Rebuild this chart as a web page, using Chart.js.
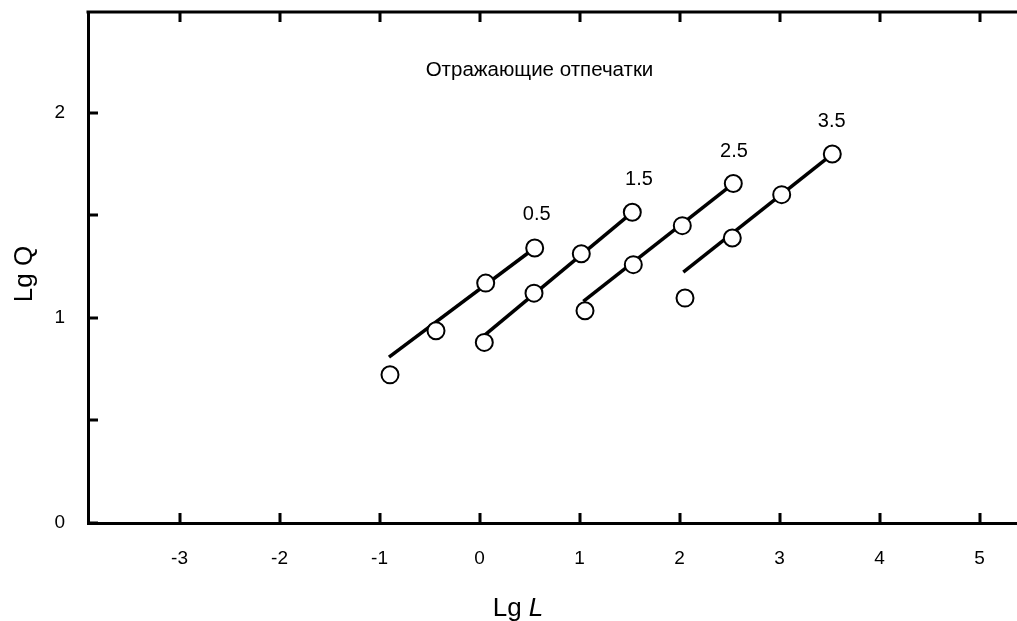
<!DOCTYPE html>
<html>
<head>
<meta charset="utf-8">
<script src="https://cdn.jsdelivr.net/npm/chart.js@4.4.0/dist/chart.umd.min.js"></script>
<style>
  html, body { margin: 0; background: #fff; overflow: hidden; }
</style>
</head>
<body>
<canvas id="chart" width="1017" height="621"></canvas>
<script>
// series labels (parameter value of each group)
const groups = ['0.5', '1.5', '2.5', '3.5'];

// measured points, Lg L / Lg Q
const lgL_05 = [-0.895, -0.435, 0.062, 0.552];
const lgQ_05 = [0.722, 0.937, 1.169, 1.340];
const lgL_15 = [0.048, 0.545, 1.018, 1.528];
const lgQ_15 = [0.880, 1.120, 1.312, 1.514];
const lgL_25 = [1.055, 1.538, 2.028, 2.538];
const lgQ_25 = [1.034, 1.259, 1.449, 1.654];
const lgL_35 = [2.055, 2.528, 3.022, 3.528];
const lgQ_35 = [1.096, 1.389, 1.600, 1.798];

// fitted straight lines: [lgL start, lgL end] / [lgQ start, lgQ end]
const fitL = [[-0.905, 0.552], [0.055, 1.528], [1.038, 2.538], [2.038, 3.528]];
const fitQ = [[0.808, 1.340], [0.917, 1.514], [1.080, 1.654], [1.223, 1.798]];

// where each group label sits (data coords)
const groupLabelL = [0.572, 1.595, 2.545, 3.522];
const groupLabelQ = [1.502, 1.673, 1.811, 1.958];

// ticks
const xTicks = [-3, -2, -1, 0, 1, 2, 3, 4, 5];
const yTicks = [0, 0.5, 1, 1.5, 2];

const title = 'Отражающие отпечатки';
const titleAt = { x: 0.6, y: 2.205 };

const font = '"Liberation Sans", Arial, sans-serif';
const pts = (xs, ys) => xs.map((x, i) => ({ x: x, y: ys[i] }));

const pointSets = [
  pts(lgL_05, lgQ_05), pts(lgL_15, lgQ_15),
  pts(lgL_25, lgQ_25), pts(lgL_35, lgQ_35)
];

const datasets = [];
fitL.forEach((xs, i) => {
  datasets.push({
    label: 'fit ' + groups[i],
    data: pts(xs, fitQ[i]),
    showLine: true,
    borderColor: '#000',
    borderWidth: 3.5,
    pointRadius: 0,
    order: 2
  });
});
pointSets.forEach((d, i) => {
  datasets.push({
    label: groups[i],
    data: d,
    showLine: false,
    pointRadius: 8.5,
    pointBorderWidth: 2,
    pointBackgroundColor: '#fff',
    pointBorderColor: '#000',
    order: 1
  });
});

// inward tick marks, top frame line, texts
const decor = {
  id: 'decor',
  afterDraw(chart) {
    const ctx = chart.ctx, a = chart.chartArea;
    const xs = chart.scales.x, ys = chart.scales.y;
    ctx.save();
    ctx.strokeStyle = '#000';
    ctx.lineWidth = 3;
    ctx.beginPath();
    ctx.moveTo(a.left - 1.5, a.top);
    ctx.lineTo(a.right + 2, a.top);
    xTicks.forEach(v => {
      const px = Math.round(xs.getPixelForValue(v));
      ctx.moveTo(px, a.bottom); ctx.lineTo(px, a.bottom - 10);
      ctx.moveTo(px, a.top); ctx.lineTo(px, a.top + 10);
    });
    yTicks.forEach(v => {
      const py = Math.round(ys.getPixelForValue(v));
      ctx.moveTo(a.left, py); ctx.lineTo(a.left + 10, py);
    });
    ctx.stroke();

    ctx.fillStyle = '#000';
    ctx.textAlign = 'center';
    ctx.textBaseline = 'middle';
    ctx.font = '20px ' + font;
    groups.forEach((g, i) => {
      ctx.fillText(g, xs.getPixelForValue(groupLabelL[i]), ys.getPixelForValue(groupLabelQ[i]));
    });
    ctx.font = '20.5px ' + font;
    ctx.fillText(title, xs.getPixelForValue(titleAt.x), ys.getPixelForValue(titleAt.y));

    // x axis title: "Lg " upright + italic "L"
    ctx.textBaseline = 'alphabetic';
    ctx.textAlign = 'left';
    ctx.font = '26px ' + font;
    const part1 = 'Lg ';
    const w1 = ctx.measureText(part1).width;
    ctx.font = 'italic 26px ' + font;
    const w2 = ctx.measureText('L').width;
    const x0 = 518 - (w1 + w2) / 2;
    ctx.font = '26px ' + font;
    ctx.fillText(part1, x0, 616);
    ctx.font = 'italic 26px ' + font;
    ctx.fillText('L', x0 + w1, 616);

    // y axis title
    ctx.translate(32, 274);
    ctx.rotate(-Math.PI / 2);
    ctx.textAlign = 'center';
    ctx.font = '26px ' + font;
    ctx.fillText('Lg Q', 0, 0);
    ctx.restore();
  }
};

new Chart(document.getElementById('chart'), {
  type: 'scatter',
  data: { datasets: datasets },
  options: {
    responsive: false,
    animation: false,
    devicePixelRatio: 1,
    layout: { autoPadding: false, padding: { top: 12, right: 0, left: 0, bottom: 0 } },
    plugins: { legend: { display: false }, tooltip: { enabled: false } },
    scales: {
      x: {
        type: 'linear',
        min: -3.915,
        max: 5.375,
        afterBuildTicks: s => { s.ticks = xTicks.map(v => ({ value: v })); },
        afterFit: s => { s.height = 98; s.paddingLeft = 0; s.paddingRight = 0; },
        grid: { display: false, drawTicks: false },
        border: { display: true, color: '#000', width: 3 },
        ticks: { color: '#000', padding: 24, font: { family: font, size: 19 }, maxRotation: 0 }
      },
      y: {
        type: 'linear',
        min: 0,
        max: 2.49,
        afterBuildTicks: s => { s.ticks = yTicks.map(v => ({ value: v })); },
        afterFit: s => { s.width = 88; s.paddingTop = 0; s.paddingBottom = 0; },
        grid: { display: false, drawTicks: false },
        border: { display: true, color: '#000', width: 3 },
        ticks: {
          color: '#000', padding: 23, font: { family: font, size: 19 },
          callback: v => Number.isInteger(v) ? v : ''
        }
      }
    }
  },
  plugins: [decor]
});
</script>
</body>
</html>
